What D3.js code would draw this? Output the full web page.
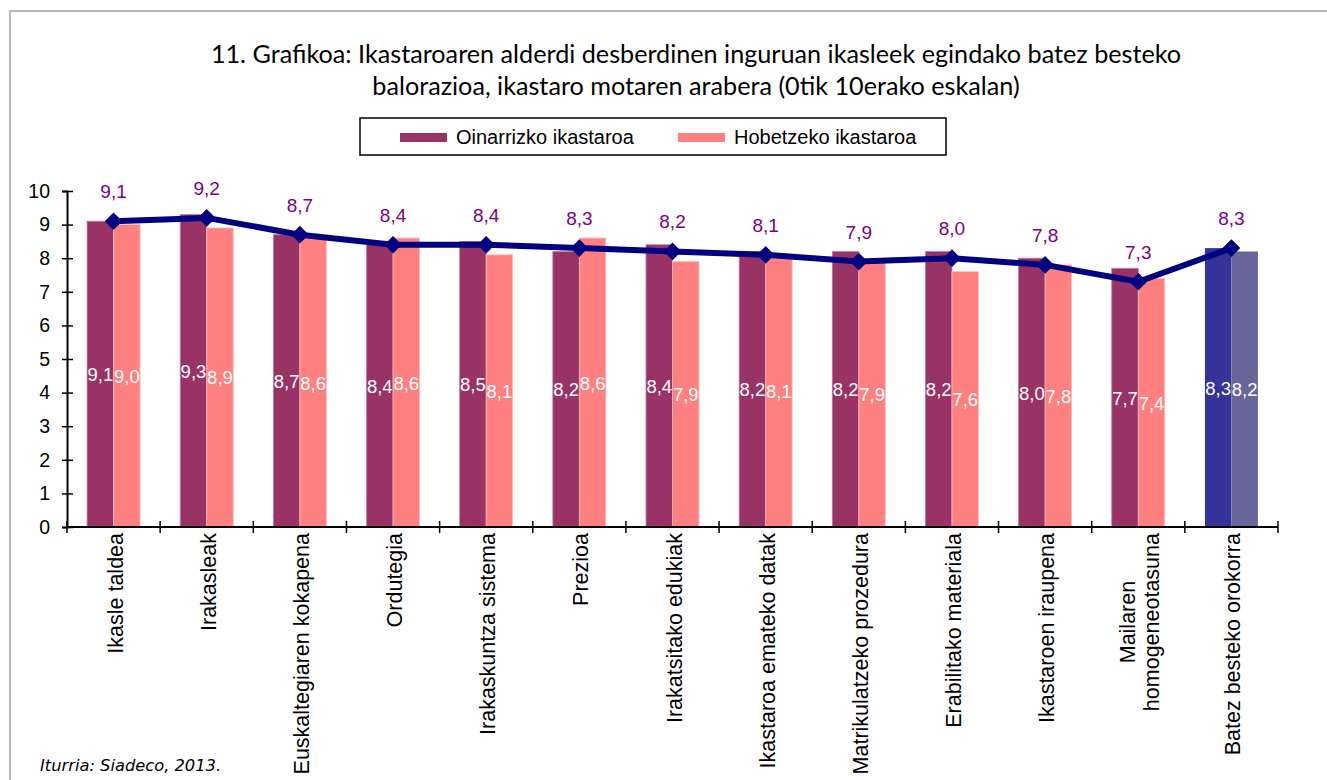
<!DOCTYPE html>
<meta charset="utf-8">
<script src="https://d3js.org/d3.v7.min.js"></script>
<style>
  body { margin: 0; background: #fff; }
</style>
<div id="my_dataviz"></div>
<script>

  // data
  var categories = ["Ikasle taldea", "Irakasleak", "Euskaltegiaren kokapena", "Ordutegia",
    "Irakaskuntza sistema", "Prezioa", "Irakatsitako edukiak", "Ikastaroa emateko datak",
    "Matrikulatzeko prozedura", "Erabilitako materiala", "Ikastaroen iraupena",
    "Mailaren\nhomogeneotasuna", "Batez besteko orokorra"]
  var oinarrizko = [9.1, 9.3, 8.7, 8.4, 8.5, 8.2, 8.4, 8.2, 8.2, 8.2, 8.0, 7.7, 8.3]
  var hobetzeko  = [9.0, 8.9, 8.6, 8.6, 8.1, 8.6, 7.9, 8.1, 7.9, 7.6, 7.8, 7.4, 8.2]
  var guztira    = [9.1, 9.2, 8.7, 8.4, 8.4, 8.3, 8.2, 8.1, 7.9, 8.0, 7.8, 7.3, 8.3]
  var seriesNames = ["Oinarrizko ikastaroa", "Hobetzeko ikastaroa"]
  var yTicks = [0, 1, 2, 3, 4, 5, 6, 7, 8, 9, 10]
  var titleLines = ["11. Grafikoa: Ikastaroaren alderdi desberdinen inguruan ikasleek egindako batez besteko",
    "balorazioa, ikastaro motaren arabera (0tik 10erako eskalan)"]

  var W = 1327, H = 780
  var plot = {left: 67, right: 1278, top: 191, bottom: 527}
  var arial = "'Liberation Sans', Arial, sans-serif"

  var svg = d3.select("#my_dataviz")
    .append("svg")
      .attr("width", W)
      .attr("height", H)

  // frame
  svg.append("rect")
    .attr("x", 10).attr("y", 11)
    .attr("width", 1330).attr("height", 800)
    .attr("fill", "none")
    .attr("stroke", "#b8b8b8")
    .attr("stroke-width", 2)

  // title
  svg.selectAll(".title")
    .data(titleLines)
    .enter()
    .append("text")
      .attr("x", 696)
      .attr("y", function(d, i) { return 63 + i * 32 })
      .attr("text-anchor", "middle")
      .style("font-family", "Lato, 'Open Sans', sans-serif")
      .style("font-size", "25.2px")
      .style("fill", "#000")
      .text(function(d) { return d })

  // scales
  var x = d3.scaleBand()
    .domain(categories)
    .range([plot.left, plot.right])
    .padding(0)

  var y = d3.scaleLinear()
    .domain([0, 10])
    .range([plot.bottom, plot.top])

  var barW = 26.5
  var x1 = d3.scaleBand()
    .domain(seriesNames)
    .range([-barW, barW])
    .padding(0)

  var colors = ["#993366", "#FF8080"]
  var lastColors = ["#333399", "#666699"]
  var edgeColors = ["#c27a9c", "#ffc0c0"]

  var rows = categories.map(function(c, i) {
    return { cat: c, i: i, vals: [oinarrizko[i], hobetzeko[i]] }
  })

  // bars
  var groups = svg.selectAll(".grp")
    .data(rows)
    .enter()
    .append("g")
      .attr("transform", function(d) { return "translate(" + (x(d.cat) + x.bandwidth() / 2) + ",0)" })

  groups.selectAll("rect")
    .data(function(d) {
      return d.vals.map(function(v, k) { return { v: v, k: k, last: d.i === categories.length - 1 } })
    })
    .enter()
    .append("rect")
      .attr("x", function(d) { return x1(seriesNames[d.k]) })
      .attr("y", function(d) { return y(d.v) })
      .attr("width", x1.bandwidth())
      .attr("height", function(d) { return y(0) - y(d.v) })
      .style("fill", function(d) { return d.last ? lastColors[d.k] : colors[d.k] })
      .style("stroke", function(d) { return d.last ? "none" : edgeColors[d.k] })
      .style("stroke-width", 0.8)

  // white value labels inside bars
  groups.selectAll(".vl")
    .data(function(d) { return d.vals.map(function(v, k) { return { v: v, k: k } }) })
    .enter()
    .append("text")
      .attr("x", function(d) { return x1(seriesNames[d.k]) + x1.bandwidth() / 2 })
      .attr("y", function(d) { return (y(d.v) + y(0)) / 2 + 7 })
      .attr("text-anchor", "middle")
      .style("font-family", arial)
      .style("font-size", "18.5px")
      .style("fill", "#fff")
      .text(function(d) { return d3.format(".1f")(d.v).replace(".", ",") })

  // y axis
  var yAxis = svg.append("g")
    .attr("transform", "translate(" + plot.left + ",0)")
    .call(d3.axisLeft(y).tickValues(yTicks).tickSize(5).tickPadding(12).tickFormat(d3.format("d")))
  yAxis.select(".domain").attr("stroke", "#000").attr("stroke-width", 2)
  yAxis.selectAll(".tick line").attr("x1", 6).attr("stroke", "#000").attr("stroke-width", 1.5)
  yAxis.selectAll(".tick text")
    .style("font-family", arial)
    .style("font-size", "19.5px")
    .style("fill", "#000")

  // x axis with ticks between categories
  var xAxis = svg.append("g")
  xAxis.append("line")
    .attr("x1", plot.left).attr("x2", plot.right)
    .attr("y1", y(0)).attr("y2", y(0))
    .attr("stroke", "#000").attr("stroke-width", 2)
  var bounds = categories.map(function(c) { return x(c) }).concat([plot.right])
  xAxis.selectAll(".xt")
    .data(bounds)
    .enter()
    .append("line")
      .attr("x1", function(d) { return d }).attr("x2", function(d) { return d })
      .attr("y1", y(0) - 6).attr("y2", y(0) + 6)
      .attr("stroke", "#000").attr("stroke-width", 1.5)

  // rotated category labels
  var labels = svg.selectAll(".xl")
    .data(categories)
    .enter()
    .append("text")
      .attr("transform", function(d) { return "translate(" + (x(d) + x.bandwidth() / 2 + 9) + "," + (y(0) + 6) + ") rotate(-90)" })
      .style("font-family", arial)
      .style("font-size", "21.5px")
      .style("fill", "#000")

  labels.each(function(d) {
    var parts = d.split("\n")
    var t = d3.select(this)
    if (parts.length === 1) {
      t.attr("text-anchor", "end").text(d)
    } else {
      t.attr("text-anchor", "middle")
      parts.forEach(function(p, j) {
        t.append("tspan").attr("x", 0).attr("dy", j === 0 ? -12 : 24).text(p)
      })
      var longest = 0
      t.selectAll("tspan").each(function() { longest = Math.max(longest, this.getComputedTextLength()) })
      t.selectAll("tspan").attr("x", -longest / 2)
    }
  })

  // line of the overall mean
  var line = d3.line()
    .x(function(d, i) { return x(categories[i]) + x.bandwidth() / 2 })
    .y(function(d) { return y(d) })

  svg.append("path")
    .datum(guztira)
    .attr("d", line)
    .attr("fill", "none")
    .attr("stroke", "#000080")
    .attr("stroke-width", 6)
    .attr("stroke-linejoin", "round")

  svg.selectAll(".mk")
    .data(guztira)
    .enter()
    .append("path")
      .attr("d", d3.symbol().type(d3.symbolDiamond2).size(200))
      .attr("transform", function(d, i) { return "translate(" + (x(categories[i]) + x.bandwidth() / 2) + "," + y(d) + ")" })
      .attr("fill", "#000080")

  svg.selectAll(".ml")
    .data(guztira)
    .enter()
    .append("text")
      .attr("x", function(d, i) { return x(categories[i]) + x.bandwidth() / 2 })
      .attr("y", function(d) { return y(d) - 23 })
      .attr("text-anchor", "middle")
      .style("font-family", arial)
      .style("font-size", "19px")
      .style("fill", "#800080")
      .text(function(d) { return d3.format(".1f")(d).replace(".", ",") })

  // legend
  var lg = svg.append("g")
  lg.append("rect")
    .attr("x", 360).attr("y", 118)
    .attr("width", 586).attr("height", 37)
    .attr("fill", "#fff").attr("stroke", "#000").attr("stroke-width", 1.5)
  var legX = [400, 678]
  seriesNames.forEach(function(s, k) {
    lg.append("rect")
      .attr("x", legX[k]).attr("y", 133)
      .attr("width", 47).attr("height", 9)
      .attr("fill", colors[k])
    lg.append("text")
      .attr("x", legX[k] + 56).attr("y", 144)
      .style("font-family", arial)
      .style("font-size", "20px")
      .style("fill", "#000")
      .text(s)
  })

  // source
  svg.append("text")
    .attr("x", 40).attr("y", 771)
    .style("font-family", "'DejaVu Sans', sans-serif")
    .style("font-style", "italic")
    .style("font-size", "16.3px")
    .style("fill", "#000")
    .text("Iturria: Siadeco, 2013.")

</script>
